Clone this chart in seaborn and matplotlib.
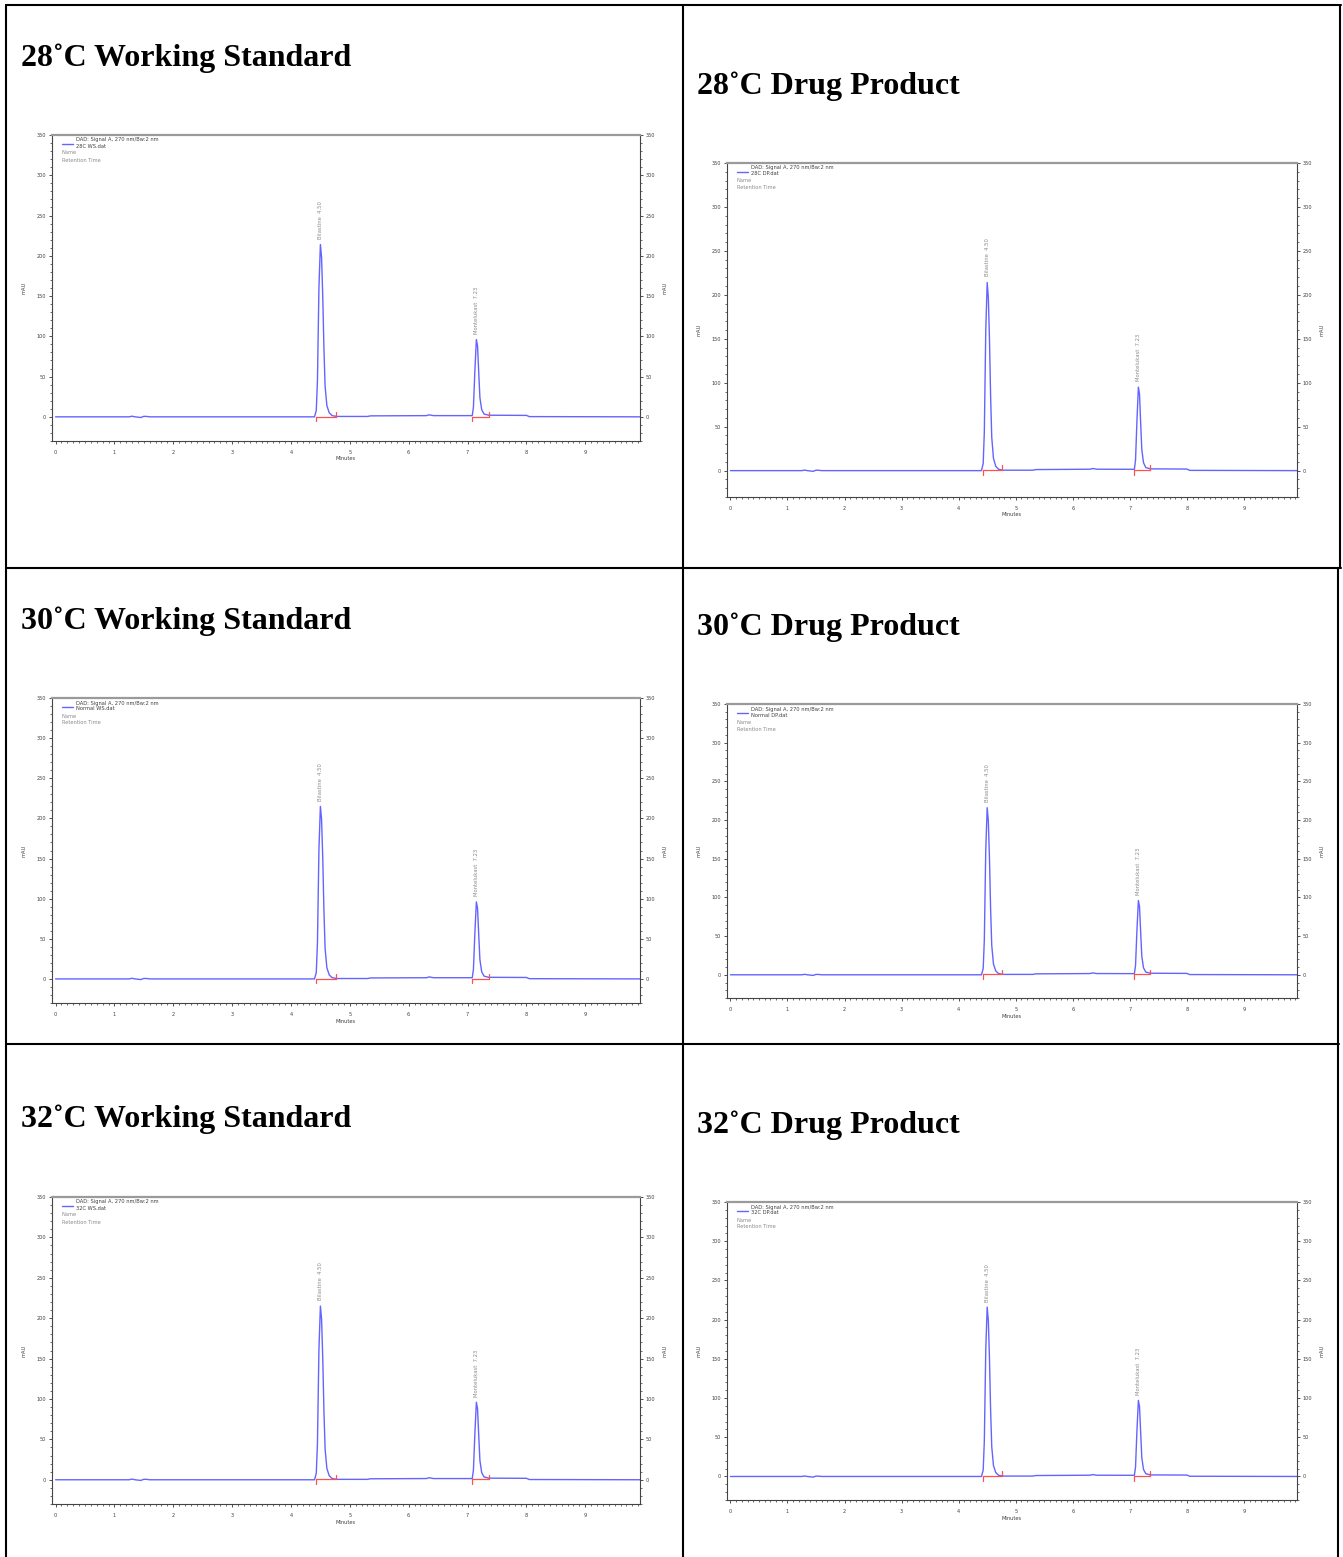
import numpy as np
import pandas as pd
import matplotlib
matplotlib.use("Agg")
import matplotlib.pyplot as plt
import seaborn as sns
from matplotlib.lines import Line2D
from matplotlib.ticker import MultipleLocator

sns.set_theme(style="white")
plt.rcParams["font.family"] = ["DejaVu Sans"]

# ---------------- data ----------------
panel_titles = ["28˚C Working Standard", "28˚C Drug Product",
                "30˚C Working Standard", "30˚C Drug Product",
                "32˚C Working Standard", "32˚C Drug Product"]
legend_signal = "DAD: Signal A, 270 nm/Bw:2 nm"
legend_files = ["28C WS.dat", "28C DP.dat", "Normal WS.dat",
                "Normal DP.dat", "32C WS.dat", "32C DP.dat"]

trace_time = [0.00, 1.25, 1.30, 1.35, 1.45, 1.50, 1.55, 1.60, 4.40, 4.43,
              4.45, 4.475, 4.50, 4.52, 4.54, 4.56, 4.58, 4.61, 4.65, 4.70,
              4.78, 5.30, 5.35, 6.30, 6.35, 6.42, 7.00, 7.08, 7.10, 7.125,
              7.15, 7.17, 7.19, 7.21, 7.24, 7.28, 7.36, 8.00, 8.05, 10.0]

mau_28_ws = [0, 0, 0.8, 0, -0.8, 0.6, 0.5, 0, 0, 8,
             45, 160, 214, 198, 150, 85, 38, 14, 5, 1.5,
             0.5, 0.5, 1.2, 1.5, 2.5, 1.5, 1.5, 1.5, 12, 58,
             96, 88, 55, 24, 9, 3.5, 2, 1.8, 0.3, 0]
mau_28_dp = [0, 0, 0.6, 0, -0.8, 0.5, 0.4, 0, 0, 8,
             44, 159, 214, 197, 150, 85, 38, 14, 5, 1.5,
             0.5, 0.5, 1.2, 1.6, 2.4, 1.6, 1.5, 1.5, 12, 57,
             95, 87, 54, 24, 9, 3.5, 2, 1.8, 0.3, 0]
mau_30_ws = [0, 0, 0.8, 0, -0.8, 0.6, 0.5, 0, 0, 8,
             45, 161, 215, 199, 151, 85, 38, 14, 5, 1.5,
             0.5, 0.5, 1.2, 1.5, 2.5, 1.5, 1.5, 1.5, 12, 58,
             96, 88, 55, 24, 9, 3.5, 2, 1.8, 0.3, 0]
mau_30_dp = [0, 0, 0.6, 0, -0.8, 0.5, 0.4, 0, 0, 8,
             45, 161, 216, 199, 151, 85, 38, 14, 5, 1.5,
             0.5, 0.5, 1.2, 1.6, 2.4, 1.6, 1.5, 1.5, 12, 58,
             96, 88, 55, 24, 9, 3.5, 2, 1.8, 0.3, 0]
mau_32_ws = [0, 0, 0.8, 0, -0.8, 0.6, 0.5, 0, 0, 8,
             45, 161, 215, 199, 151, 85, 38, 14, 5, 1.5,
             0.5, 0.5, 1.2, 1.5, 2.5, 1.5, 1.5, 1.5, 12, 58,
             96, 88, 55, 24, 9, 3.5, 2, 1.8, 0.3, 0]
mau_32_dp = [0, 0, 0.6, 0, -0.8, 0.5, 0.4, 0, 0, 8,
             45, 161, 216, 199, 151, 85, 38, 14, 5, 1.5,
             0.5, 0.5, 1.2, 1.6, 2.4, 1.6, 1.5, 1.5, 12, 59,
             97, 89, 56, 24, 9, 3.5, 2, 1.8, 0.3, 0]
traces = [mau_28_ws, mau_28_dp, mau_30_ws, mau_30_dp, mau_32_ws, mau_32_dp]

peak_labels = ["Bilastine  4.50", "Montelukast  7.23"]
peak_apex_time = [4.50, 7.15]
peak_start = [4.42, 7.08]
peak_end = [4.76, 7.36]
y_ticks = [0, 50, 100, 150, 200, 250, 300, 350]
x_ticks = [0, 1, 2, 3, 4, 5, 6, 7, 8, 9]

# ---------------- layout (pixels) ----------------
W, H = 1343, 1557
fig = plt.figure(figsize=(W / 100, H / 100), dpi=100)
fig.patch.set_facecolor("white")

# (left, top, right, bottom) of each chromatogram box
boxes = [(52, 135, 640, 441), (727, 163, 1297, 497),
         (52, 698, 640, 1003), (727, 704, 1297, 998),
         (52, 1197, 640, 1504), (727, 1202, 1297, 1500)]
title_pos = [(21, 58), (697, 86), (21, 621), (697, 627), (21, 1119), (697, 1125)]

BLUE = "#6464ff"
RED = "#ff5050"
GRAY = "#8c8c8c"
TXT = "#404040"

for i, (l, t, r, b) in enumerate(boxes):
    ax = fig.add_axes([l / W, 1 - b / H, (r - l) / W, (b - t) / H])
    bw, bh = r - l, b - t
    df = pd.DataFrame({"Minutes": trace_time, "mAU": traces[i]})
    sns.lineplot(data=df, x="Minutes", y="mAU", ax=ax, color=BLUE,
                 linewidth=1.0, estimator=None, sort=False)
    ax.set_xlim(-0.06, 9.93)
    ax.set_ylim(-30, 350)

    # integration baselines + markers
    for s, e in zip(peak_start, peak_end):
        ax.plot([s, e], [0.4, 0.4], color=RED, lw=0.9, zorder=3)
        ax.plot([s, s], [0.4, -5.5], color=RED, lw=0.9, zorder=3)
        ax.plot([e, e], [0.4, 6.5], color=RED, lw=0.9, zorder=3)

    # peak labels
    y_apex = [traces[i][trace_time.index(p)] for p in peak_apex_time]
    for p, yv, lab in zip(peak_apex_time, y_apex, peak_labels):
        ax.text(p, yv + 7, lab, rotation=90, ha="center", va="bottom",
                fontsize=3.8, color=GRAY)

    # legend block (pixel offsets from top-left corner)
    def fx(px):
        return px / bw

    def fy(py):
        return 1 - py / bh

    ax.plot([fx(10), fx(21)], [fy(9), fy(9)], transform=ax.transAxes,
            color=BLUE, lw=1.0)
    ax.text(fx(24), fy(5), legend_signal, transform=ax.transAxes,
            fontsize=3.7, color=TXT, va="center", ha="left")
    ax.text(fx(24), fy(11), legend_files[i], transform=ax.transAxes,
            fontsize=3.7, color=TXT, va="center", ha="left")
    ax.text(fx(10), fy(18), "Name", transform=ax.transAxes,
            fontsize=3.7, color=GRAY, va="center", ha="left")
    ax.text(fx(10), fy(25), "Retention Time", transform=ax.transAxes,
            fontsize=3.7, color=GRAY, va="center", ha="left")

    # axis labels
    ax.set_xlabel("")
    ax.set_ylabel("")
    ax.text(fx(-28), 0.5, "mAU", rotation=90, transform=ax.transAxes,
            fontsize=3.7, color=TXT, ha="center", va="center")
    ax.text(1 + 25 / bw, 0.5, "mAU", rotation=90, transform=ax.transAxes,
            fontsize=3.7, color=TXT, ha="center", va="center")
    ax.text(0.5, -18 / bh, "Minutes", transform=ax.transAxes,
            fontsize=3.7, color=TXT, ha="center", va="center")

    # ticks
    ax.set_xticks(x_ticks)
    ax.set_yticks(y_ticks)
    ax.xaxis.set_minor_locator(MultipleLocator(0.1))
    ax.yaxis.set_minor_locator(MultipleLocator(10))
    ax.tick_params(axis="both", which="major", labelsize=3.6, length=2.2,
                   width=0.6, color="#333333", labelcolor=TXT, pad=2,
                   direction="out", bottom=True, left=True, right=True,
                   labelright=True)
    ax.tick_params(axis="both", which="minor", length=1.2, width=0.5,
                   color="#333333", bottom=True, left=True, right=True)
    ax.tick_params(axis="x", which="major", pad=4)
    for side in ["left", "right", "bottom"]:
        ax.spines[side].set_color("#444444")
        ax.spines[side].set_linewidth(0.8)
    ax.spines["top"].set_color("#9a9a9a")
    ax.spines["top"].set_linewidth(1.6)
    ax.set_facecolor("white")
    ax.grid(False)

# titles
for (x, y), ttl in zip(title_pos, panel_titles):
    fig.text(x / W, 1 - y / H, ttl, fontsize=23, fontweight="bold",
             family=["Liberation Serif", "DejaVu Serif"], ha="left",
             va="center", color="black")

# table borders
LW = 1.5


def hline(y, x0, x1):
    fig.add_artist(Line2D([x0 / W, x1 / W], [1 - y / H, 1 - y / H],
                          color="black", lw=LW, transform=fig.transFigure))


def vline(x, y0, y1):
    fig.add_artist(Line2D([x / W, x / W], [1 - y0 / H, 1 - y1 / H],
                          color="black", lw=LW, transform=fig.transFigure))


hline(5, 6, 1341)
hline(568, 6, 1341)
hline(1044, 6, 1339)
vline(6, 5, 1557)
vline(683, 5, 1557)
vline(1340, 5, 568)
vline(1338, 568, 1557)

fig.savefig("out.png", dpi=100, facecolor="white")
